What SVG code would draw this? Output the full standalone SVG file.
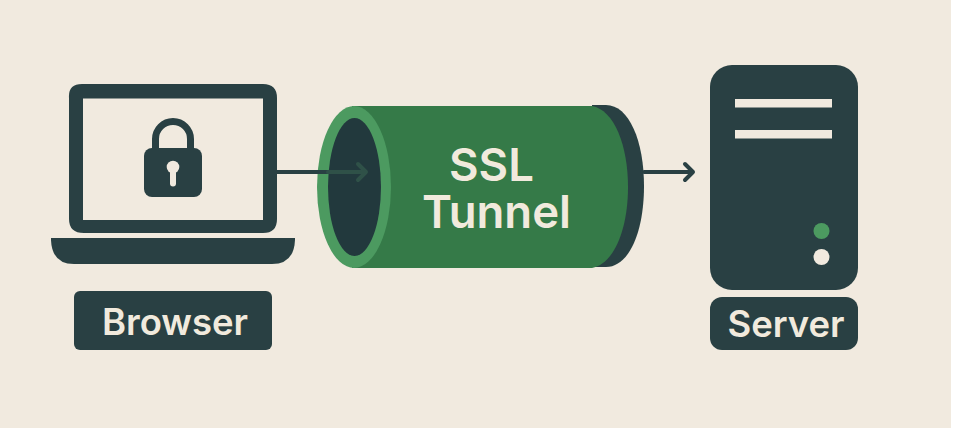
<svg xmlns="http://www.w3.org/2000/svg" width="954" height="428" viewBox="0 0 954 428">
<style>
.d{fill:#294043}
.t{font-family:"Inter","Liberation Sans",sans-serif;font-weight:600;fill:#f1eadd;text-anchor:middle}
.c{fill:none;stroke:#294043;stroke-width:4;stroke-linecap:round;stroke-linejoin:round}
</style>
<rect width="954" height="428" fill="#ffffff"/>
<rect width="951" height="428" fill="#f1eadf"/>
<g id="browser">
<path class="d" fill-rule="evenodd" d="M82 84H263Q277 84 277 98V219Q277 233 263 233H84Q69 233 69 219V98Q68 84 82 84ZM83 98.500V220H263V98.500Z"/>
<path class="d" d="M51 238H295V240Q294 264 272 264H74Q52 264 51 240Z"/>
<path d="M155.500 150V139A17.500 17.500 0 0 1 190.500 139V150" fill="none" stroke="#294043" stroke-width="7"/>
<rect class="d" x="144" y="148" width="58" height="49" rx="8"/>
<circle cx="173" cy="167" r="6.300" fill="#f1eadf"/>
<rect x="170" y="167" width="6" height="19.500" rx="3" fill="#f1eadf"/>
<rect class="d" x="74" y="291" width="198" height="59" rx="6"/>
<text class="t" x="175" y="335" font-size="36.500">Browser</text>
</g>
<g id="tunnel">
<path class="d" d="M592 105H606C629 105 644 141 644 186C644 232 629 267 606 267H592Z"/>
<path fill="#357a48" d="M352 106H592C614 110 628 145 628 187C628 229 614 264 592 268H352Z"/>
<ellipse cx="354" cy="187" rx="37" ry="81" fill="#4c9a60"/>
<ellipse cx="354.500" cy="187" rx="26.500" ry="69" fill="#22393d"/>
<text class="t" x="491.500" y="181" font-size="45.500">SSL</text>
<text class="t" x="496.500" y="228" font-size="45.500">Tunnel</text>
</g>
<g id="server">
<rect class="d" x="710" y="65" width="148" height="225" rx="22"/>
<rect x="735" y="99" width="97" height="8.500" fill="#f1eadf"/>
<rect x="735" y="130" width="97" height="8.500" fill="#f1eadf"/>
<circle cx="821.500" cy="231" r="8" fill="#4c9a60"/>
<circle cx="821.500" cy="257" r="8" fill="#f1eadf"/>
<rect class="d" x="710" y="297" width="148" height="53" rx="12"/>
<text class="t" x="786" y="337" font-size="36.500">Server</text>
</g>
<g id="connectors">
<path d="M277 172H328" fill="none" stroke="#294043" stroke-width="4"/>
<path d="M328 172H366M358 164L366 172L358 180" fill="none" stroke="#2f5148" stroke-width="4" stroke-linejoin="round" stroke-linecap="round"/>
<path class="c" d="M644 172H693M685 164L693 172L685 180"/>
</g>
</svg>
